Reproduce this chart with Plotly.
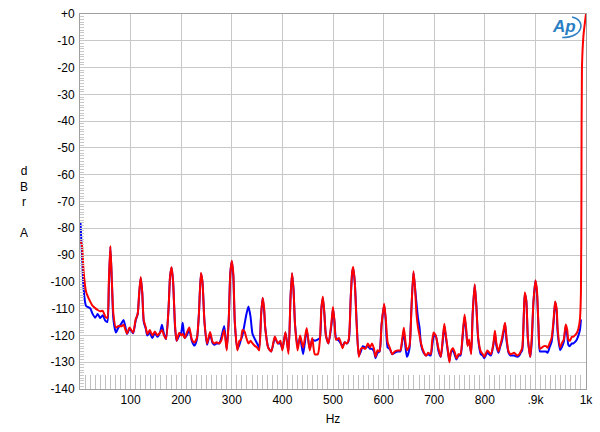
import plotly.graph_objects as go

# Frequency points (Hz) shared by both channels
freq = [1, 4, 7, 12, 20, 25, 30, 35, 40, 45, 50, 54, 57, 60, 63, 66, 71, 76, 82, 86, 90, 93, 98,
        105, 110, 114, 117, 120, 123, 126, 130, 133, 138, 143, 148, 153, 158, 162, 166, 170, 175,
        178, 181, 184, 188, 191, 196, 200, 203, 207, 211, 216, 221, 226, 231, 235, 239, 242, 246,
        251, 257, 262, 266, 270, 275, 279, 285, 290, 294, 297, 300, 303, 306, 311, 315, 318, 321,
        325, 329, 333, 337, 341, 346, 350, 354, 358, 361, 364, 366, 372, 378, 385, 391, 396, 400,
        406, 412, 416, 419, 422, 425, 430, 435, 441, 448, 454, 459, 464, 470, 474, 477, 480, 483,
        486, 491, 497, 500, 503, 506, 512, 519, 523, 527, 531, 535, 538, 540, 543, 547, 551, 555,
        559, 564, 569, 573, 577, 581, 584, 588, 592, 596, 601, 604, 608, 612, 617, 622, 627, 633,
        637, 640, 643, 646, 651, 655, 659, 662, 665, 668, 671, 674, 679, 684, 688, 693, 696, 699,
        703, 708, 713, 717, 720, 723, 727, 730, 733, 737, 741, 744, 748, 752, 756, 760, 763, 766,
        769, 773, 776, 780, 783, 787, 792, 796, 799, 805, 812, 817, 820, 823, 827, 830, 834, 837,
        840, 843, 847, 851, 858, 864, 868, 871, 874, 877, 879, 882, 885, 888, 890, 893, 896, 900,
        903, 906, 909, 913, 917, 921, 924, 928, 932, 936, 939, 942, 944, 949, 952, 956, 960, 963,
        965, 968, 972, 975, 978, 982, 985, 988, 990]

red_db = [-84.6, -86.5, -96, -103.7, -107.3, -109, -109.8, -110.5, -111, -110.8, -113, -113.5, -100,
          -86.6, -100, -112, -117.1, -116.5, -116.6, -116, -118, -119.3, -117,
          -119, -114, -112, -104, -98.2, -104, -114.4, -117, -119.5, -118, -120, -118.5, -120, -119,
          -118, -120, -121.3, -110,
          -98, -94.5, -100, -116.6, -122, -119, -120, -119.5, -121, -119, -117, -121.5, -122.6, -120.9,
          -112, -96.6, -100, -115,
          -123, -118.7, -122.4, -123, -122.5, -123, -122, -118, -125.6, -114, -97, -92.1, -97, -115,
          -125.6, -122, -121.6, -118,
          -118.5, -121, -123, -122, -123, -124, -124.5, -125.6, -112, -105.9, -110, -117, -124.6, -126,
          -120.4, -123, -122, -125.6,
          -118.7, -126.9, -106, -96.7, -103, -116, -125.6, -120, -124.5, -117.2, -125.6, -121, -127,
          -127, -122, -110, -105.5, -112,
          -120, -123, -115, -109.4, -115, -121.6, -121, -124.8, -122.5, -123, -121.5, -106, -96, -94.5,
          -100, -117, -128, -125,
          -124.6, -125, -123, -124.5, -123, -125, -128, -125.5, -126, -116, -108.2, -113, -122.6,
          -124.5, -127, -126, -125.6, -125.6,
          -121, -117.1, -122, -125.5, -124, -110, -96, -102, -112, -117, -120, -123, -126, -127.6,
          -126.5, -127, -122, -118.9,
          -120, -124.5, -128, -121, -115.6, -120, -125.5, -130, -126, -124.8, -126.5, -128.6, -127,
          -127, -120, -112.2, -117, -124,
          -121.5, -127, -112, -100.9, -108, -121, -126, -127, -128, -125.6, -127, -123, -118.3, -123,
          -126, -124, -121, -118,
          -115.3, -121, -126, -127, -126.5, -127.5, -127, -126, -124.6, -113, -104, -107, -120.5, -126,
          -128, -120, -108, -99.4,
          -103, -116, -125, -124.5, -124, -124, -124.6, -123, -121, -114, -107.3, -110, -117.5, -124.5,
          -123, -121.5, -115.9, -118,
          -121.5, -122, -120.5, -120.5, -120, -119, -117.5, -114, -104]

blue_db = [-78, -90, -102.4, -109, -109.8, -112, -113.4, -112, -113.5, -112.5, -114.5, -115, -102,
           -87, -100, -114, -118.9, -117, -115.5, -114.2, -117, -119.5, -117.5,
           -119.2, -114.5, -112, -104.5, -98.5, -104, -115, -117.5, -120, -119, -121, -119, -120.5,
           -119, -116, -119.5, -121.3, -110,
           -98, -94.7, -100, -117.5, -122, -120, -119, -115.3, -121, -120, -118, -122, -123.8, -121.5,
           -112, -97, -100, -115,
           -123.5, -119.5, -122.8, -123.5, -123, -123, -121, -116.5, -125, -114, -97, -92.3, -98,
           -115.5, -125, -123.5, -121.6, -120,
           -116, -112, -109.2, -113, -119.5, -121.5, -123, -124.5, -112, -106, -111, -117, -124.5,
           -126, -121, -123, -123, -125,
           -119, -126, -106, -97, -103, -116, -124, -121, -127, -118, -125, -121.5, -122, -121.5, -121,
           -110, -106, -112,
           -120, -123, -116, -110, -115, -121, -122, -124, -122.5, -123, -122, -106, -96.5, -95, -100,
           -116, -127.5, -126,
           -124, -124.5, -124, -125, -125, -126, -128.5, -126.5, -126, -116, -108.5, -114, -124.5,
           -125, -127, -126.5, -126, -126,
           -122, -118.5, -124, -128, -125, -110, -96.5, -102, -108, -113.5, -117, -123.5, -126.5,
           -127.5, -127, -127.5, -124, -120.5,
           -120, -125.5, -128, -122, -116.5, -120.5, -126, -129.5, -126.5, -125.5, -127.5, -129,
           -127.5, -127.5, -121, -113, -118, -123.5,
           -122.5, -126.5, -112, -101.2, -108, -121.5, -127, -127.5, -128.5, -126.5, -127.5, -123.5,
           -119.5, -124, -126.5, -124.5, -122, -119,
           -115.5, -122, -126.5, -127.5, -127.5, -128, -127.5, -126.5, -125.5, -113, -104.5, -107,
           -121, -126, -128, -122, -108, -99.6,
           -104, -116.5, -126, -126, -126, -126, -126.5, -124.5, -122.5, -115, -107.5, -111, -119,
           -125.5, -124.5, -122.5, -116.5, -120,
           -123.5, -124, -123, -123, -122.5, -121.5, -120, -118, -114]

# Red channel continues through the 1 kHz test tone
red_tail_freq = [991, 992, 995, 998, 1000]
red_tail_db = [-65, -20, -8, -3, 0]

y_tickvals = [0, -10, -20, -30, -40, -50, -60, -70, -80, -90, -100, -110, -120, -130, -140]
y_ticktext = ["+0", "-10", "-20", "-30", "-40", "-50", "-60", "-70", "-80", "-90", "-100",
              "-110", "-120", "-130", "-140"]
x_tickvals = [100, 200, 300, 400, 500, 600, 700, 800, 900, 1000]
x_ticktext = ["100", "200", "300", "400", "500", "600", "700", "800", ".9k", "1k"]

fig = go.Figure()
fig.add_trace(go.Scatter(x=freq, y=blue_db, mode="lines",
                         line=dict(color="#0000ff", width=2, shape="spline", smoothing=0.6),
                         showlegend=False))
fig.add_trace(go.Scatter(x=freq + red_tail_freq, y=red_db + red_tail_db, mode="lines",
                         line=dict(color="#ff0000", width=2, shape="spline", smoothing=0.6),
                         showlegend=False))

font = dict(family="Liberation Sans, Arial, sans-serif", size=12, color="#000000")

fig.update_layout(
    width=600, height=432,
    margin=dict(l=80, r=9, t=7, b=43),
    paper_bgcolor="white", plot_bgcolor="white",
    font=font,
    xaxis=dict(range=[0, 1000], tickvals=x_tickvals, ticktext=x_ticktext,
               showgrid=True, gridcolor="#c8c8c8", gridwidth=1,
               showline=True, linecolor="#a0a0a0", linewidth=1, mirror=True,
               ticks="inside", ticklen=0, zeroline=False,
               minor=dict(dtick=10, tick0=0, ticks="inside", ticklen=14,
                          tickcolor="#c0c0c0", showgrid=False),
               title=dict(text="Hz", standoff=8, font=font),
               tickfont=font),
    yaxis=dict(range=[-140, 0], tickvals=y_tickvals, ticktext=y_ticktext,
               showgrid=True, gridcolor="#c8c8c8", gridwidth=1,
               showline=True, linecolor="#a0a0a0", linewidth=1, mirror=True,
               ticks="inside", ticklen=0, zeroline=False,
               minor=dict(dtick=1, tick0=0, ticks="inside", ticklen=4,
                          tickcolor="#c8c8c8", showgrid=False),
               tickfont=font, ticklabelstandoff=2),
)

fig.add_annotation(xref="paper", yref="paper", x=-0.1115, y=0.5,
                   text="d<br>B<br>r<br><br>A", showarrow=False,
                   font=font, align="center", xanchor="center", yanchor="middle")

# Ap logo
def px(x):
    return (x - 80) / 511


def py(y):
    return (389 - y) / 382


fig.add_annotation(xref="paper", yref="paper", x=px(569), y=py(20),
                   text="<i><b>Ap</b></i>", showarrow=False,
                   font=dict(family="Liberation Sans, Arial, sans-serif", size=17, color="#2a7fc4"),
                   xanchor="center", yanchor="middle")
fig.add_shape(type="path", xref="paper", yref="paper",
              path="M %f %f C %f %f %f %f %f %f" % (px(577), py(10), px(591), py(13),
                                                   px(589), py(31), px(567), py(31)),
              line=dict(color="#2a7fc4", width=1.5))

fig.write_html("out.html")
